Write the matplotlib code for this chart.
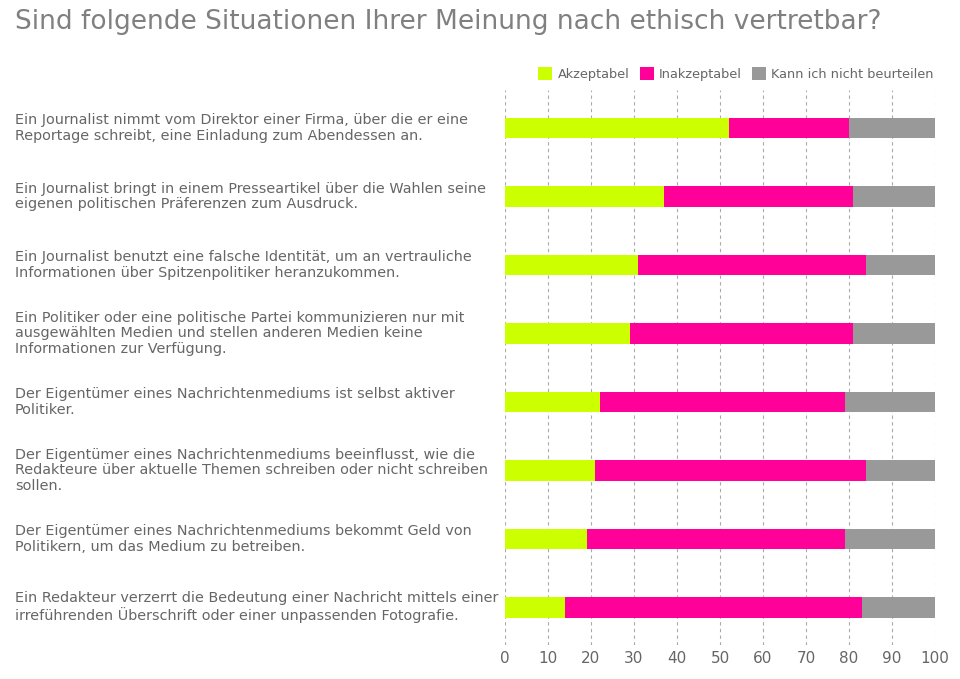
import matplotlib.pyplot as plt
import numpy as np

questions = [
    "Ein Journalist nimmt vom Direktor einer Firma, über die er eine\nReportage schreibt, eine Einladung zum Abendessen an.",
    "Ein Journalist bringt in einem Presseartikel über die Wahlen seine\neigenen politischen Präferenzen zum Ausdruck.",
    "Ein Journalist benutzt eine falsche Identität, um an vertrauliche\nInformationen über Spitzenpolitiker heranzukommen.",
    "Ein Politiker oder eine politische Partei kommunizieren nur mit\nausgewählten Medien und stellen anderen Medien keine\nInformationen zur Verfügung.",
    "Der Eigentümer eines Nachrichtenmediums ist selbst aktiver\nPolitiker.",
    "Der Eigentümer eines Nachrichtenmediums beeinflusst, wie die\nRedakteure über aktuelle Themen schreiben oder nicht schreiben\nsollen.",
    "Der Eigentümer eines Nachrichtenmediums bekommt Geld von\nPolitikern, um das Medium zu betreiben.",
    "Ein Redakteur verzerrt die Bedeutung einer Nachricht mittels einer\nirreführenden Überschrift oder einer unpassenden Fotografie.",
]
akzeptabel = [52, 37, 31, 29, 22, 21, 19, 14]
inakzeptabel = [28, 44, 53, 52, 57, 63, 60, 69]
weiss_nicht = [20, 19, 16, 19, 21, 16, 21, 17]

series = ["Akzeptabel", "Inakzeptabel", "Kann ich nicht beurteilen"]
colors = ["#ccff00", "#ff0099", "#999999"]
txt = "#666666"

fig = plt.figure(figsize=(9.6, 6.79), dpi=100)
ax = fig.add_axes([0.526, 0.05, 0.448, 0.817])

y = np.arange(len(questions))
left = np.zeros(len(questions))
for vals, name, c in zip([akzeptabel, inakzeptabel, weiss_nicht], series, colors):
    ax.barh(y, vals, left=left, height=0.3, color=c, label=name, zorder=3)
    left += np.array(vals)

ax.set_ylim(len(questions) - 0.45, -0.55)
ax.set_xlim(0, 100)
ax.set_xticks(range(0, 101, 10))
ax.set_yticks([])
ax.tick_params(axis='x', colors=txt, labelsize=11, length=0, pad=4)
ax.grid(axis='x', linestyle=(0, (3, 3)), color="#aaaaaa", linewidth=0.8, zorder=0)
for s in ax.spines.values():
    s.set_visible(False)

# question labels, left-aligned at the figure edge
for yi, q in zip(y, questions):
    ax.annotate(q, xy=(0, yi), xycoords=('figure fraction', 'data'),
                xytext=(15, 0), textcoords='offset pixels',
                ha='left', va='center', fontsize=10.4, color=txt, linespacing=1.15)

fig.text(15 / 960, 1 - 22 / 679, "Sind folgende Situationen Ihrer Meinung nach ethisch vertretbar?",
         fontsize=19, color="#808080", ha='left', va='center')

fig.legend(loc='upper right', bbox_to_anchor=(0.985, 0.918), ncol=3, frameon=False,
           fontsize=9.3, labelcolor=txt, handlelength=1.1, handleheight=1.1,
           columnspacing=0.8, handletextpad=0.4)

plt.savefig("out.png", dpi=100)
